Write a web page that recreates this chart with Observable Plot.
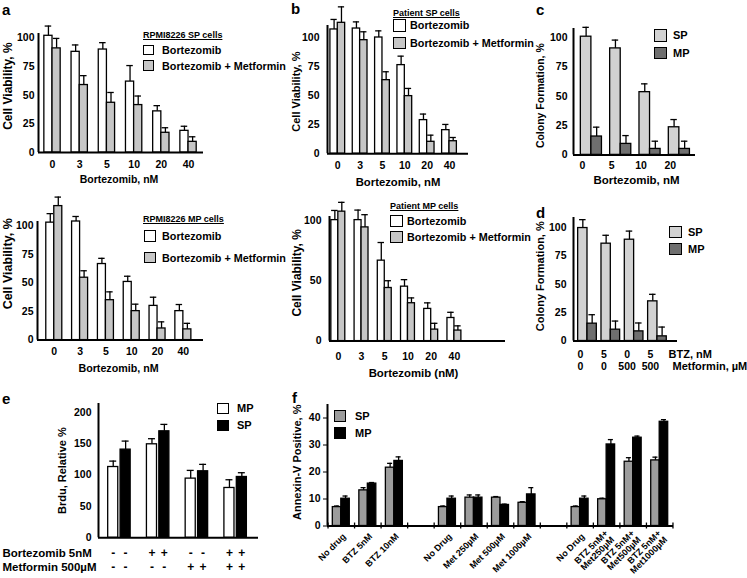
<!DOCTYPE html>
<html><head><meta charset="utf-8">
<script src="https://cdn.jsdelivr.net/npm/d3@7"></script>
<script src="https://cdn.jsdelivr.net/npm/@observablehq/plot@0.6"></script>
<style>
body{margin:0;background:#fff;}
#fig{position:relative;width:747px;height:578px;overflow:hidden;background:#fff;font-family:"Liberation Sans",Arial,Helvetica,sans-serif;font-weight:bold;color:#000;}
.t{position:absolute;white-space:nowrap;line-height:1;}
.box{position:absolute;border:1.5px solid #000;box-sizing:border-box;}
</style></head><body><div id="fig"></div>
<script>
// ---------- DATA ----------
const doses = ["0", "3", "5", "10", "20", "40"];
const abSeries = ["Bortezomib", "Bortezomib + Metformin"];
const abTitles = ["RPMI8226 SP cells", "RPMI8226 MP cells", "Patient SP cells", "Patient MP cells"];

// a: RPMI8226 SP
const aSpBtz = [102, 88, 90, 62, 36, 19];
const aSpBtzErr = [8.5, 6, 6, 14, 5, 4];
const aSpBtzMet = [91, 59, 43.5, 41.5, 17.3, 9.4];
const aSpBtzMetErr = [8.7, 8.2, 9, 7.9, 4.4, 4.4];
// a: RPMI8226 MP
const aMpBtz = [103, 104, 66.7, 51, 30, 25.4];
const aMpBtzErr = [7.9, 4.4, 5, 5, 7.6, 5.8];
const aMpBtzMet = [117.5, 54.7, 35, 25.4, 10.2, 9.4];
const aMpBtzMetErr = [7.9, 6.1, 7.3, 6.1, 5.8, 5.3];
// b: Patient SP
const bSpBtz = [106.6, 107.4, 99.7, 76, 28.8, 20.2];
const bSpBtzErr = [8.6, 5.7, 5.7, 7.7, 5.2, 4.9];
const bSpBtzMet = [112.3, 97.4, 63.1, 49.4, 10.2, 10.7];
const bSpBtzMetErr = [13.7, 7.2, 7.2, 6.6, 5.7, 3.2];
// b: Patient MP
const bMpBtz = [100, 100, 66.5, 45, 26.6, 19.1];
const bMpBtzErr = [8, 8.3, 15, 5.8, 5, 4.7];
const bMpBtzMet = [107, 94, 43.9, 31.3, 9.5, 8.7];
const bMpBtzMetErr = [7.7, 10.5, 6, 4.4, 5.2, 3.9];

// c: colony formation vs bortezomib
const cdSeries = ["SP", "MP"];
const cDoses = ["0", "5", "10", "20"];
const cSp = [101, 91, 53.6, 23.6];
const cSpErr = [8, 7.1, 7.1, 6.6];
const cMp = [15.7, 9.4, 5.1, 5.1];
const cMpErr = [8, 7.1, 6.6, 6.6];

// d: colony formation, BTZ / metformin
const dBtz = ["0", "5", "0", "5"];
const dMet = ["0", "0", "500", "500"];
const dRowLabels = ["BTZ, nM", "Metformin, µM"];
const dSp = [99.7, 85.9, 89.4, 35];
const dSpErr = [7.4, 7.4, 7.6, 6.2];
const dMp = [15.3, 10, 8.5, 4.1];
const dMpErr = [7.9, 7.6, 7.4, 8.2];

// e: Brdu
const eSeries = ["MP", "SP"];
const eRowLabels = ["Bortezomib 5nM", "Metformin 500µM"];
const eBtz = ["-", "+", "-", "+"];
const eMet = ["-", "-", "+", "+"];
const eMp = [112.8, 149, 94.3, 79.4];
const eMpErr = [9.4, 8.9, 13.1, 13.1];
const eSp = [140.5, 169.7, 106, 96.9];
const eSpErr = [13.6, 11, 11, 6.8];

// f: Annexin-V
const fSeries = ["SP", "MP"];
const fCats = ["No drug", "BTZ 5nM", "BTZ 10nM", "", "No Drug", "Met 250µM", "Met 500µM", "Met 1000µM", "",
  "No Drug", "BTZ 5nM+\nMet250µM", "BTZ 5nM+\nMet500µM", "BTZ 5nM+\nMet1000µM"];
const fSp = [7.0, 13.2, 21.6, null, 7.0, 10.5, 10.5, 8.6, null, 7.0, 9.9, 23.8, 24.3];
const fSpErr = [0.4, 1, 1.6, null, 0.4, 1, 0.4, 0.4, null, 0.4, 0.4, 1.5, 1.2];
const fMp = [10.1, 15.7, 24.1, null, 10.1, 10.5, 7.8, 11.7, null, 10.1, 30.2, 32.7, 38.6];
const fMpErr = [1, 0.4, 1.5, null, 1, 1, 0.3, 2.5, null, 1, 1.8, 0.6, 0.8];

// ---------- STYLE ----------
const FONT = '"Liberation Sans", Arial, Helvetica, sans-serif';
const WHITE = "#ffffff", GRAY = "#c6c6c6", LIGHT = "#d2d2d2", DARK = "#6f6f6f", MID = "#9c9c9c", BLACK = "#000000";
const fig = document.getElementById("fig");

function panel(p) {
  const [fl, ft, fr, fb] = p.frame;
  const mL = 60, mR = 30, mT = 20, mB = 60;
  const nS = p.series.length;
  const gap = p.gap || 0;
  const marks = [];
  const allRows = [];
  p.series.forEach((s, si) => {
    const rows = [];
    s.values.forEach((v, i) => {
      if (v == null) return;
      const x1 = i + (si - nS / 2) * p.barW + (si - (nS - 1) / 2) * gap;
      rows.push({i, si, v, e: s.errors[i], x1, x2: x1 + p.barW, xc: x1 + p.barW / 2});
    });
    allRows.push(...rows);
    marks.push(
      Plot.ruleX(rows, {x: "xc", y1: "v", y2: d => d.v + d.e, stroke: "black", strokeWidth: 1.3}),
      Plot.ruleY(rows, {y: d => d.v + d.e, x1: d => d.xc - p.capW / 2, x2: d => d.xc + p.capW / 2, stroke: "black", strokeWidth: 1.3}),
      Plot.rect(rows, {x1: "x1", x2: "x2", y1: 0, y2: "v", fill: s.fill, stroke: "black", strokeWidth: 1.3})
    );
  });
  marks.push(Plot.ruleY([0], {stroke: "black", strokeWidth: 2}), Plot.ruleX([p.xDomain[0]], {stroke: "black", strokeWidth: 2}));
  if (p.extra) marks.push(...p.extra(allRows));
  marks.push(Plot.text([p.ylabel], {frameAnchor: "left", rotate: -90, dx: p.yl[0], dy: p.yl[1], fontSize: p.yl[2], textAnchor: "middle", lineAnchor: "middle"}));
  if (p.xlabel) marks.push(Plot.text([p.xlabel], {frameAnchor: "bottom", dx: p.xl[0], dy: p.xl[1], fontSize: p.xl[2], textAnchor: "middle", lineAnchor: "middle"}));
  if (p.xTicks) marks.push(Plot.text(p.xTicks, {x: (d, i) => i, y: 0, dx: p.xt[0], dy: p.xt[1], fontSize: 10.5, lineAnchor: "middle", textAnchor: "middle"}));
  const svg = Plot.plot({
    width: fr - fl + mL + mR, height: fb - ft + mT + mB,
    marginLeft: mL, marginRight: mR, marginTop: mT, marginBottom: mB,
    x: {domain: p.xDomain, axis: null},
    y: {domain: p.yDomain, ticks: p.yTicks, tickSize: p.yTickSize || 0, tickPadding: p.yPad, label: null},
    style: {fontFamily: FONT, fontSize: "10.5px", fontWeight: "bold", color: "black", background: "transparent", overflow: "visible"},
    marks
  });
  svg.style.position = "absolute";
  svg.style.left = (fl - mL) + "px";
  svg.style.top = (ft - mT) + "px";
  svg.style.maxWidth = "none";
  fig.append(svg);
}

function txt(x, cy, s, size, underline) {
  const d = document.createElement("div");
  d.className = "t"; d.textContent = s;
  d.style.left = x + "px"; d.style.top = (cy - size / 2) + "px"; d.style.fontSize = size + "px";
  if (underline) d.style.textDecoration = "underline";
  fig.append(d);
}
function box(x, y, w, h, fill) {
  const d = document.createElement("div");
  d.className = "box";
  Object.assign(d.style, {left: x + "px", top: y + "px", width: w + "px", height: h + "px", background: fill});
  fig.append(d);
}

// ---------- PANELS ----------
// a SP
panel({frame: [38, 33.4, 203, 152.5], xDomain: [-0.515, 5.55], yDomain: [0, 104], yTicks: [0, 25, 50, 75, 100], yPad: 4,
  barW: 0.3, capW: 0.24,
  series: [{values: aSpBtz, errors: aSpBtzErr, fill: WHITE}, {values: aSpBtzMet, errors: aSpBtzMetErr, fill: GRAY}],
  ylabel: "Cell Viability, %", yl: [-30.5, -7, 12], xlabel: "Bortezomib, nM", xl: [-2, 27.5, 10.5],
  xTicks: doses, xt: [0, 12.5]});
// a MP
panel({frame: [37, 221.4, 203, 340], xDomain: [-0.65, 5.78], yDomain: [0, 104], yTicks: [0, 25, 50, 75, 100], yPad: 4,
  barW: 0.31, capW: 0.25,
  series: [{values: aMpBtz, errors: aMpBtzErr, fill: WHITE}, {values: aMpBtzMet, errors: aMpBtzMetErr, fill: GRAY}],
  ylabel: "Cell Viability, %", yl: [-29.5, -17, 12.5], xlabel: "Bortezomib, nM", xl: [-2, 28, 10.7],
  xTicks: doses, xt: [0, 12]});
// b SP
panel({frame: [327, 25.3, 468, 153.5], xDomain: [-0.46, 5.85], yDomain: [0, 110], yTicks: [0, 25, 50, 75, 100], yPad: 8,
  barW: 0.33, capW: 0.28,
  series: [{values: bSpBtz, errors: bSpBtzErr, fill: WHITE}, {values: bSpBtzMet, errors: bSpBtzMetErr, fill: GRAY}],
  ylabel: "Cell Viability, %", yl: [-31, 2, 11], xlabel: "Bortezomib, nM", xl: [0, 28.5, 11.3],
  xTicks: doses, xt: [0, 12]});
// b MP
panel({frame: [329, 215.9, 505, 340.5], xDomain: [-0.38, 7.2], yDomain: [0, 103], yTicks: [0, 50, 100], yPad: 8,
  barW: 0.3, capW: 0.28,
  series: [{values: bMpBtz, errors: bMpBtzErr, fill: WHITE}, {values: bMpBtzMet, errors: bMpBtzMetErr, fill: GRAY}],
  ylabel: "Cell Viability, %", yl: [-32, -6, 12], xlabel: "Bortezomib (nM)", xl: [-4, 32.5, 11.4],
  xTicks: doses, xt: [0, 15.5]});
// c
panel({frame: [573, 27.9, 695, 154.3], xDomain: [-0.61, 3.55], yDomain: [0, 108], yTicks: [0, 25, 50, 75, 100], yPad: 6,
  barW: 0.36, capW: 0.22,
  series: [{values: cSp, errors: cSpErr, fill: LIGHT}, {values: cMp, errors: cMpErr, fill: DARK}],
  ylabel: "Colony Formation, %", yl: [-33, 4, 10.5], xlabel: "Bortezomib, nM", xl: [2, 25.7, 11.5],
  xTicks: cDoses, xt: [-9, 10.7]});
// d
panel({frame: [573, 217.2, 677, 340.7], xDomain: [-0.6, 3.86], yDomain: [0, 109], yTicks: [0, 25, 50, 75, 100], yPad: 7,
  barW: 0.4, capW: 0.28,
  series: [{values: dSp, errors: dSpErr, fill: LIGHT}, {values: dMp, errors: dMpErr, fill: DARK}],
  ylabel: "Colony Formation, %", yl: [-33, -3, 11],
  extra: () => [
    Plot.text(dBtz, {x: (d, i) => i, y: 0, dx: -7, dy: 13.3, lineAnchor: "middle", textAnchor: "middle"}),
    Plot.text(dMet, {x: (d, i) => i, y: 0, dx: -7, dy: 25.3, lineAnchor: "middle", textAnchor: "middle"}),
    Plot.text([dRowLabels[0]], {frameAnchor: "bottom-right", dx: -9, dy: 13.3, textAnchor: "start", lineAnchor: "middle", fontSize: 11}),
    Plot.text([dRowLabels[1]], {frameAnchor: "bottom-right", dx: -5, dy: 25.3, textAnchor: "start", lineAnchor: "middle", fontSize: 11})
  ]});
// e
panel({frame: [98, 403.2, 258, 537.5], xDomain: [-0.54, 3.59], yDomain: [0, 214], yTicks: [0, 50, 100, 150, 200], yPad: 7,
  barW: 0.26, gap: 0.06, capW: 0.18,
  series: [{values: eMp, errors: eMpErr, fill: WHITE}, {values: eSp, errors: eSpErr, fill: BLACK}],
  ylabel: "Brdu, Relative %", yl: [-36, 0, 11],
  extra: rows => [
    Plot.text(rows, {x: "xc", y: 0, text: d => eBtz[d.i], dy: 15.5, lineAnchor: "middle", textAnchor: "middle", fontSize: 12}),
    Plot.text(rows, {x: "xc", y: 0, text: d => eMet[d.i], dy: 29.5, lineAnchor: "middle", textAnchor: "middle", fontSize: 12}),
    Plot.text([eRowLabels[0]], {frameAnchor: "bottom-left", dx: -96, dy: 15.5, textAnchor: "start", lineAnchor: "middle", fontSize: 11.5}),
    Plot.text([eRowLabels[1]], {frameAnchor: "bottom-left", dx: -96, dy: 29.5, textAnchor: "start", lineAnchor: "middle", fontSize: 11.5})
  ]});
// f
panel({frame: [327, 403.5, 673, 525], xDomain: [-0.52, 12.52], yDomain: [0, 45], yTicks: [0, 10, 20, 30, 40], yTickSize: 4, yPad: 3,
  barW: 0.32, capW: 0.19,
  series: [{values: fSp, errors: fSpErr, fill: MID}, {values: fMp, errors: fMpErr, fill: BLACK}],
  ylabel: "Annexin-V Positive, %", yl: [-30, -3, 11],
  extra: () => [
    Plot.ruleX(d3.range(-0.5, fCats.length, 1), {y1: -1.1, y2: 1.1, stroke: "black", strokeWidth: 1.3}),
    Plot.text(fCats, {x: (d, i) => i, y: 0, rotate: -45, textAnchor: "end", lineAnchor: "middle", lineHeight: 1, dx: 3, dy: 9, fontSize: 9})
  ]});

// ---------- LEGENDS ----------
txt(143, 35, abTitles[0], 9, true);
box(143, 45, 11, 10, WHITE); txt(162, 50, abSeries[0], 10.8);
box(143, 60, 11, 11, GRAY); txt(162, 66, abSeries[1], 10.8);

txt(143, 219, abTitles[1], 9, true);
box(144, 230, 12, 12, WHITE); txt(162, 236, abSeries[0], 10.8);
box(144, 252, 12, 11, GRAY); txt(162, 258, abSeries[1], 10.8);

txt(393, 13, abTitles[2], 9, true);
box(393, 19, 13, 13, WHITE); txt(410, 25, abSeries[0], 10.8);
box(393, 37, 13, 12, GRAY); txt(410, 43, abSeries[1], 10.8);

txt(390, 206, abTitles[3], 9, true);
box(390, 215, 13, 12, WHITE); txt(407, 221, abSeries[0], 10.8);
box(390, 231, 13, 12, GRAY); txt(407, 237, abSeries[1], 10.8);

box(654, 29, 13, 13, LIGHT); txt(673, 35.5, cdSeries[0], 11);
box(654, 47, 13, 12, DARK); txt(673, 53, cdSeries[1], 11);

box(669, 226, 13, 12, LIGHT); txt(688, 232, cdSeries[0], 11);
box(669, 243, 13, 12, DARK); txt(688, 249, cdSeries[1], 11);

box(217, 403, 12, 11, WHITE); txt(237, 408.5, eSeries[0], 11);
box(217, 420, 12, 11, BLACK); txt(237, 425.5, eSeries[1], 11);

box(334, 410, 12, 12, MID); txt(355, 416, fSeries[0], 11);
box(334, 427, 12, 12, BLACK); txt(355, 433, fSeries[1], 11);

// panel letters
txt(2, 9, "a", 15); txt(291, 8, "b", 15); txt(536, 9, "c", 15);
txt(536, 212, "d", 15); txt(2, 398, "e", 15); txt(292, 397, "f", 15);
</script>
</body></html>
